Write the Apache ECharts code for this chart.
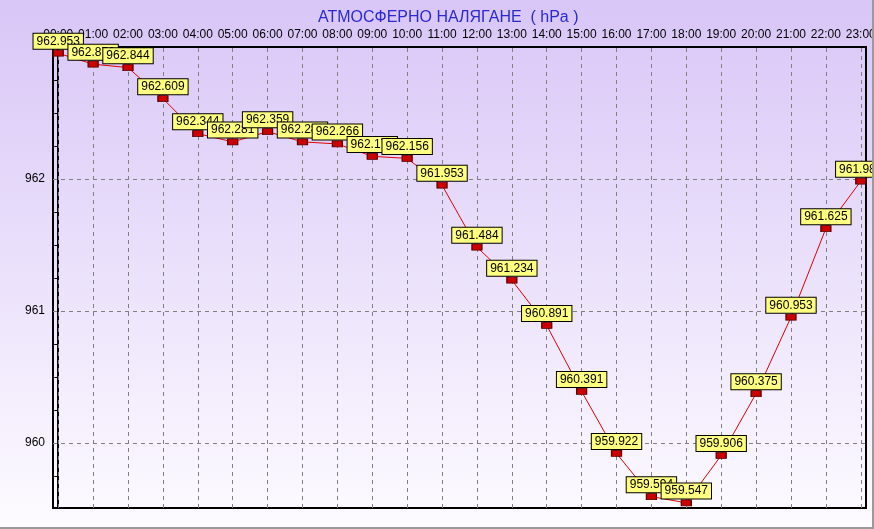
<!DOCTYPE html>
<html>
<head>
<meta charset="utf-8">
<script src="https://cdn.jsdelivr.net/npm/echarts@6/dist/echarts.min.js"></script>
<style>
html,body{margin:0;padding:0;background:#fff;}
#c{width:872px;height:527px;border-right:2px solid #9a9a9a;border-bottom:2px solid #9a9a9a;}
</style>
</head>
<body>
<div id="c"></div>
<script>
const hours = ["00:00","01:00","02:00","03:00","04:00","05:00","06:00","07:00","08:00","09:00","10:00","11:00",
               "12:00","13:00","14:00","15:00","16:00","17:00","18:00","19:00","20:00","21:00","22:00","23:00"];
const pressure = [962.953,962.87,962.844,962.609,962.344,962.281,962.359,962.281,962.266,962.172,962.156,961.953,
                  961.484,961.234,960.891,960.391,959.922,959.594,959.547,959.906,960.375,960.953,961.625,961.984];
const yLabels = [960,961,962];
const yTicks = [959.75,960,960.25,960.5,960.75,961,961.25,961.5,961.75,962,962.25,962.5,962.75];
const hourIdx = hours.map((h,i)=>i);
const title = "АТМОСФЕРНО НАЛЯГАНЕ  ( hPa )";

const chart = echarts.init(document.getElementById('c'));
chart.setOption({
  animation:false,
  backgroundColor:{type:'linear',x:0,y:0,x2:0,y2:1,colorStops:[{offset:0,color:'#d8c6f7'},{offset:1,color:'#fdfbff'}]},
  title:{text:title,left:313,top:5,textStyle:{fontFamily:'Liberation Sans',fontSize:16,fontWeight:'normal',color:'#2a2ad0'}},
  grid:{left:53,right:6,top:47,bottom:19,outerBoundsMode:'none',containLabel:false,show:true,borderColor:'#000',borderWidth:2,backgroundColor:'transparent'},
  xAxis:{
    type:'value',position:'top',min:-0.15,max:23.15,
    axisLine:{show:true,lineStyle:{color:'#000',width:2}},
    axisTick:{show:false,customValues:hourIdx},
    axisLabel:{customValues:hourIdx,formatter:v=>hours[Math.round(v)],margin:6,color:'#000',fontFamily:'Liberation Sans',fontSize:12,hideOverlap:false},
    splitLine:{show:false}
  },
  yAxis:{
    type:'value',min:959.508,max:963,
    axisLine:{show:true,lineStyle:{color:'#000',width:2}},
    axisTick:{show:true,inside:false,length:4,customValues:yTicks,lineStyle:{color:'#000'}},
    axisLabel:{customValues:yLabels,margin:8,color:'#000',fontFamily:'Liberation Sans',fontSize:12},
    splitLine:{show:false}
  },
  series:[{
    type:'line',
    data:pressure.map((v,i)=>[i,v]),
    lineStyle:{color:'#e00000',width:1},
    symbol:'rect',symbolSize:[10,6],showAllSymbol:true,
    itemStyle:{color:'#cc0000',borderColor:'#5a0000',borderWidth:1},
    label:{show:true,position:'top',distance:1,formatter:p=>p.value[1].toFixed(3),
      backgroundColor:'#ffff80',borderColor:'#000',borderWidth:1,padding:[1,3,1,3],
      color:'#000',fontFamily:'Liberation Sans',fontSize:12,lineHeight:13},
    markLine:{silent:true,symbol:'none',label:{show:false},z:1,
      lineStyle:{color:'#808080',type:[4,4],width:1},
      data:yLabels.map(v=>({yAxis:v})).concat(hourIdx.map(i=>({xAxis:i})))}
  }]
});
</script>
</body>
</html>
